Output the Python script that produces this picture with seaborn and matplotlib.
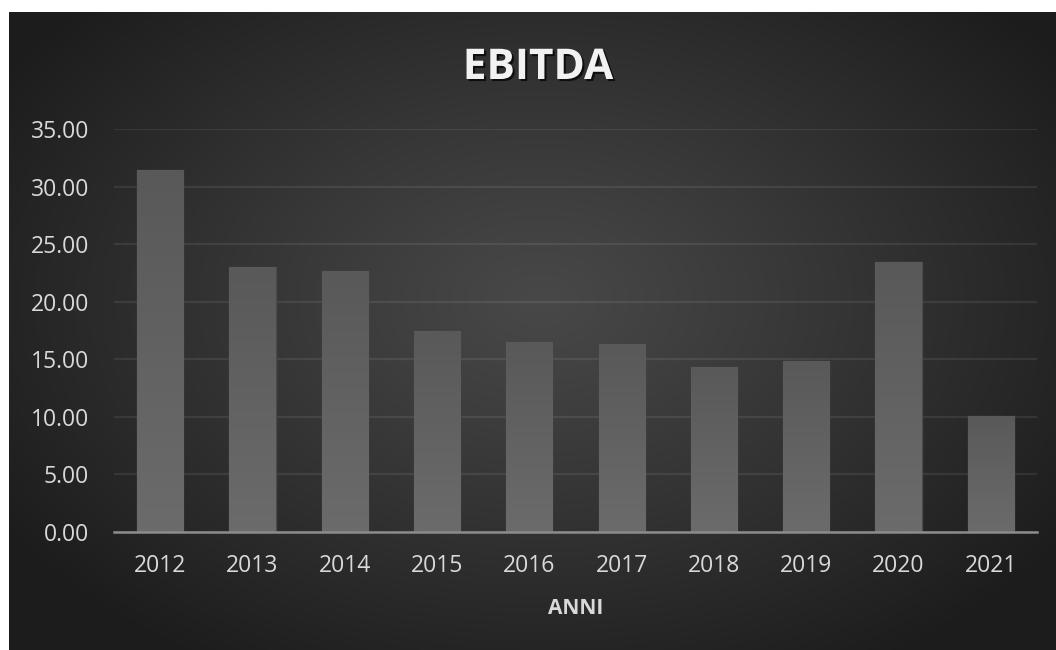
import numpy as np
import pandas as pd
import matplotlib
matplotlib.use("Agg")
import matplotlib.pyplot as plt
import matplotlib.patheffects as pe
import seaborn as sns

# EBITDA by year
anni = ["2012", "2013", "2014", "2015", "2016", "2017", "2018", "2019", "2020", "2021"]
ebitda = [31.40, 23.05, 22.68, 17.46, 16.53, 16.33, 14.36, 14.86, 23.46, 10.10]
y_ticks = [0, 5, 10, 15, 20, 25, 30, 35]

sns.set_theme(style="dark")
plt.rcParams["font.family"] = ["Open Sans", "DejaVu Sans"]

W, H = 1056, 650
fig = plt.figure(figsize=(W / 100, H / 100), dpi=100, facecolor="white")

# dark panel with a radial glow
bg = fig.add_axes([9 / W, 0, 1 - 9 / W, 1 - 12 / H])
bg.set_axis_off()
ph, pw = 638, 1047
yy, xx = np.mgrid[0:ph, 0:pw]
cx, cy = 540 - 9, 300 - 12
r = np.sqrt(((xx - cx) / 640) ** 2 + ((yy - cy) / 430) ** 2)
r = np.clip(r, 0, 1) ** 1.1
inner, outer = 0x48 / 255, 0x1c / 255
val = inner + (outer - inner) * r
img = np.dstack([val, val, val])
bg.imshow(img, aspect="auto", extent=[0, 1, 0, 1], origin="upper")
bg.set_xlim(0, 1)
bg.set_ylim(0, 1)

# plot area
left, right = 114 / W, 1037 / W
bottom, top = (H - 532) / H, (H - 129) / H
ax = fig.add_axes([left, bottom, right - left, top - bottom])
ax.patch.set_alpha(0)

df = pd.DataFrame({"anno": anni, "ebitda": ebitda})
sns.barplot(data=df, x="anno", y="ebitda", color="#666666", width=0.5,
            saturation=1, edgecolor="#4a4a4a", linewidth=1.0, ax=ax, zorder=3)

# vertical shading on each bar
bar_cmap = matplotlib.colors.LinearSegmentedColormap.from_list("bar", ["#6b6b6b", "#595959"])
grad = np.linspace(0, 1, 64).reshape(-1, 1)
for p in ax.patches:
    x0, y0 = p.get_x(), p.get_y()
    w, h = p.get_width(), p.get_height()
    im = ax.imshow(grad, cmap=bar_cmap, aspect="auto",
                   extent=[x0, x0 + w, y0 + h, y0], origin="upper", zorder=3.5)
    im.set_clip_path(p)
    p.set_path_effects([pe.SimplePatchShadow(offset=(0, 0), shadow_rgbFace="black",
                                             alpha=0.4, rho=1), pe.Normal()])

ax.set_xlim(-0.5, len(anni) - 0.5)
ax.set_ylim(0, 35)
ax.set_yticks(y_ticks)
ax.set_yticklabels([f"{v:.2f}" for v in y_ticks])
ax.grid(axis="y", color="white", alpha=0.08, linewidth=1.6, zorder=1)
ax.grid(axis="x", visible=False)
ax.set_axisbelow(True)
for s in ["top", "right", "left"]:
    ax.spines[s].set_visible(False)
ax.spines["bottom"].set_color("#8c8c8c")
ax.spines["bottom"].set_linewidth(1.8)
ax.spines["bottom"].set_zorder(5)

ax.tick_params(axis="y", length=0, pad=18, labelsize=16.5, labelcolor="#d9d9d9")
ax.tick_params(axis="x", length=0, pad=16, labelsize=16.5, labelcolor="#d9d9d9")
ax.set_ylabel("")
ax.set_xlabel("ANNI", fontsize=15, fontweight="bold", color="#d9d9d9", labelpad=14)

fig.text(538 / W, 1 - 68.5 / H, "EBITDA", ha="center", va="center",
         fontsize=30.5, fontweight="bold", color="#f2f2f2",
         path_effects=[pe.SimplePatchShadow(offset=(1.5, -1.5), shadow_rgbFace="black",
                                            alpha=0.7), pe.Normal()])

fig.savefig("out.png", dpi=100, facecolor="white")
